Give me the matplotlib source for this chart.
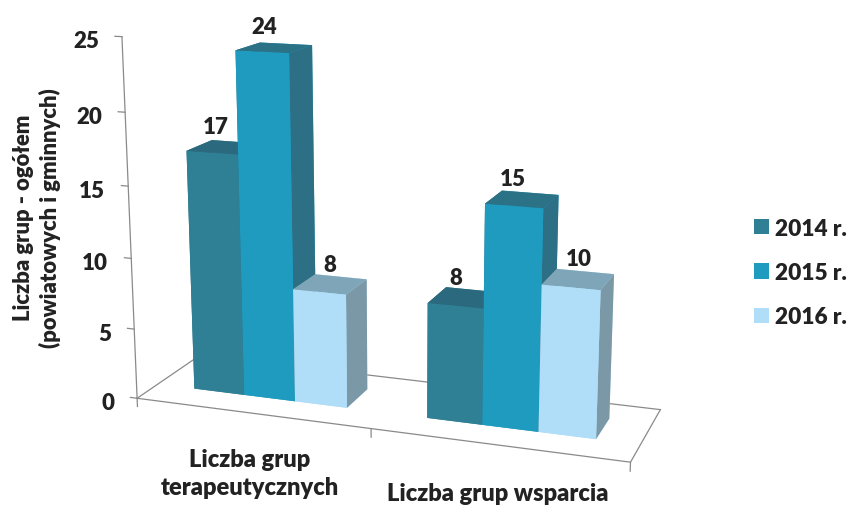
import numpy as np
import matplotlib
matplotlib.use('Agg')
import matplotlib.pyplot as plt
from matplotlib.patches import Patch

categories = ['Liczba grup\nterapeutycznych', 'Liczba grup wsparcia']
series = ['2014 r.', '2015 r.', '2016 r.']
v2014 = [17, 8]
v2015 = [24, 15]
v2016 = [8, 10]
zticks = [0, 5, 10, 15, 20, 25]
y_title = 'Liczba grup - ogółem\n(powiatowych i gminnych)'

front = ['#2F8095', '#1F9BC0', '#B0DEF8']
top = ['#2B6A7E', '#2C7287', '#7FA6B8']
side = ['#2B6A7E', '#2D7085', '#7B98A7']
txt = '#222222'
axc = '#8A8A8A'
weight = 'heavy'

plt.rcParams['font.family'] = ['Lato', 'DejaVu Sans']
W, H = 850, 506
fig = plt.figure(figsize=(8.5, 5.06), dpi=100)
ax = fig.add_axes([0.1, 0.1, 0.8, 0.8], projection='3d', computed_zorder=False)
ax.set_axis_off()
ax.view_init(elev=14.27066, azim=-70.38591, roll=0.0641)
ax.set_proj_type('persp', focal_length=float(np.exp(-0.7337)))
ax.set_box_aspect((np.exp(0.31993), np.exp(-0.9366), 1.0), zoom=1)

xs, bw, y0, y1 = 0.16569, 0.22221, 0.31369, 0.71358
scale, tx, ty = 3449.947, 395.942, 227.446

# floor outline and axes
ln = dict(color=axc, lw=0.9, zorder=1)
ax.plot([0, 2, 2], [0, 0, 1], [0, 0, 0], **ln)
ax.plot([0, 0, 2], [0, 1, 1], [0, 0, 0], **ln)
ax.plot([0, 0], [0, 0], [0, 25], **ln)
for z in zticks:
    ax.plot([-0.03, 0], [0, 0], [z, z], **ln)
for x in (0, 1, 2):
    ax.plot([x, x], [0, 0], [0, -0.6], **ln)

# bars, painted from the far left to the near right
for g in range(2):
    for i, vals in enumerate((v2014, v2015, v2016)):
        faces = [front[i], top[i], front[i], front[i], side[i], side[i]]
        ax.bar3d(g + xs + i*bw, y0, 0, bw, y1 - y0, vals[g], color=faces,
                 shade=False, zorder=10 + g*3 + i)

ax.set_xlim(0, 2); ax.set_ylim(0, 1); ax.set_zlim(0, 25)

# place the axes so that the projection lands where the chart sits
ax.apply_aspect()
a0 = ax.transData.transform((0, 0)); a1 = ax.transData.transform((1, 1))
pos = ax.get_position()
X0, Y0, WW, HH = pos.x0*W, pos.y0*H, pos.width*W, pos.height*H
r = scale/(a1[0] - a0[0])
fx = (a0[0] - X0)/WW; fy = (a0[1] - Y0)/HH
W2, H2 = WW*r, HH*r
ax.set_position([(tx - fx*W2)/W, ((H - ty) - fy*H2)/H, W2/W, H2/H])

M = ax.get_proj()
def label3d(x, y, z, s, dx, dy, **kw):
    q = M @ np.array([x, y, z, 1.0])
    px = scale*q[0]/q[3] + tx + dx
    py = -scale*q[1]/q[3] + ty + dy
    fig.text(px/W, 1 - py/H, s, fontweight=weight, color=txt, **kw)

for z in zticks:
    label3d(0, 0, z, str(z), -23, 4, ha='right', va='center', fontsize=16)

label_dx = [-9, -10, 0]
for g in range(2):
    for i, vals in enumerate((v2014, v2015, v2016)):
        label3d(g + xs + (i + 0.5)*bw, (y0 + y1)/2, vals[g] + 0.75, str(vals[g]),
                label_dx[i], 1, ha='center', va='bottom', fontsize=16)

fig.text(37/W, 1 - 218/H, y_title, rotation=90, ha='center', va='center',
         ma='center', fontsize=15.8, fontweight=weight, color=txt, linespacing=1.3)
fig.text(250/W, 1 - 474/H, categories[0], ha='center', va='center', ma='center',
         fontsize=17, fontweight=weight, color=txt, linespacing=1.3)
fig.text(498/W, 1 - 494/H, categories[1], ha='center', va='center',
         fontsize=17, fontweight=weight, color=txt)

handles = [Patch(facecolor=c, edgecolor='none', label=s) for c, s in zip(front, series)]
fig.legend(handles=handles, loc='center left', bbox_to_anchor=(754/W, 1 - 273.5/H),
           frameon=False, handlelength=0.65, handleheight=0.65,
           handletextpad=0.27, labelspacing=1.03, borderpad=0, borderaxespad=0,
           labelcolor=txt, prop={'weight': weight, 'size': 16.3})

fig.savefig('out.png', dpi=100)
